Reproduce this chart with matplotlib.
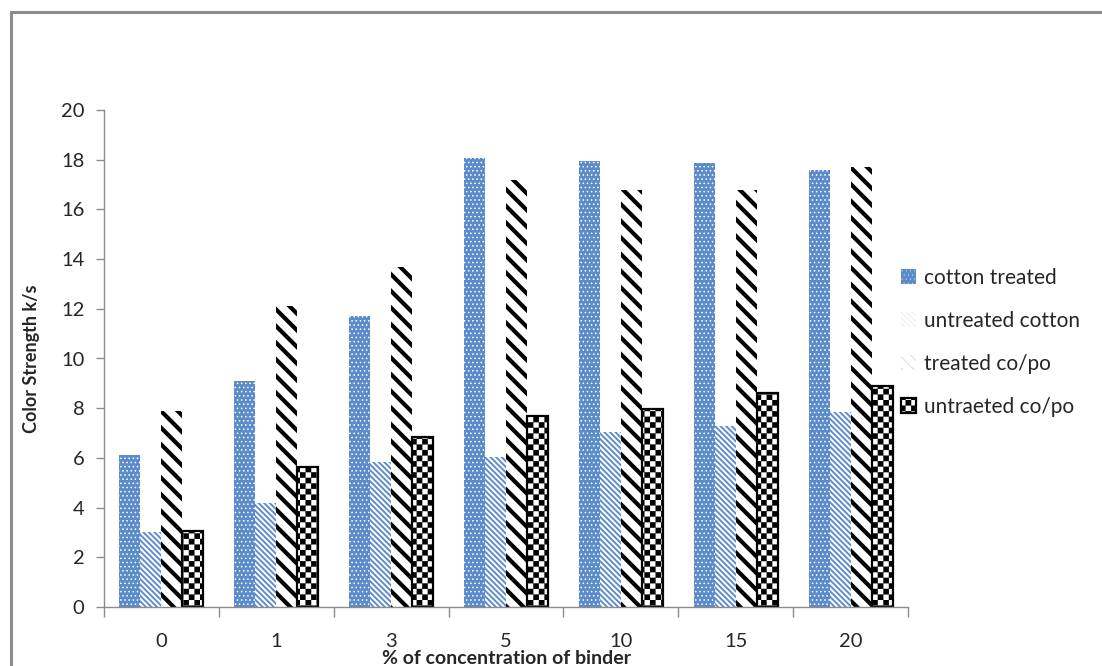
import warnings
import numpy as np
import matplotlib
matplotlib.use("Agg")
import matplotlib.pyplot as plt
import matplotlib.hatch as mhatch
from matplotlib.path import Path
from matplotlib.patches import Rectangle, Patch

warnings.filterwarnings("ignore")

# ---------------- data ----------------
categories = ["0", "1", "3", "5", "10", "15", "20"]
series_names = ["cotton treated", "untreated cotton", "treated co/po", "untraeted co/po"]
cotton_treated = [6.1, 9.1, 11.7, 18.05, 17.95, 17.85, 17.6]
untreated_cotton = [3.0, 4.2, 5.85, 6.05, 7.05, 7.3, 7.85]
treated_copo = [7.9, 12.1, 13.7, 17.2, 16.8, 16.8, 17.7]
untreated_copo = [3.05, 5.65, 6.85, 7.7, 7.95, 8.6, 8.9]
y_ticks = [0, 2, 4, 6, 8, 10, 12, 14, 16, 18, 20]
x_label = "% of concentration of binder"
y_label = "Color Strength k/s"


# ---------------- custom checkerboard hatch ----------------
class CheckerHatch(mhatch.HatchPatternBase):
    def __init__(self, hatch, density):
        n = hatch.count('c') * density
        if n % 2:
            n += 1
        self.n = n
        self.cells = [(i, j) for i in range(n) for j in range(n) if (i + j) % 2 == 0] if n else []
        self.num_vertices = len(self.cells) * 5

    def set_vertices_and_codes(self, vertices, codes):
        s = 1.0 / self.n
        k = 0
        for (i, j) in self.cells:
            x0, y0 = i * s, j * s
            vertices[k:k + 5] = [(x0, y0), (x0 + s, y0), (x0 + s, y0 + s), (x0, y0 + s), (x0, y0)]
            codes[k] = Path.MOVETO
            codes[k + 1:k + 4] = Path.LINETO
            codes[k + 4] = Path.CLOSEPOLY
            k += 5


mhatch._hatch_types.append(CheckerHatch)

# ---------------- figure ----------------
font = "Lato"
plt.rcParams["font.family"] = [font, "DejaVu Sans"]
text_color = "#262626"
axis_color = "#8c8c8c"

fig = plt.figure(figsize=(11.02, 6.66), dpi=100)
fig.patch.set_facecolor("white")

# outer chart frame
fig.patches.append(Rectangle((11 / 1102, -0.1), 1.2, 1 - 12 / 666 + 0.1,
                             transform=fig.transFigure, fill=False,
                             edgecolor="#8c8c8c", linewidth=2.2, zorder=0))

ax = fig.add_axes([104 / 1102, 1 - 607 / 666, (908 - 104) / 1102, (607 - 110) / 666])

x = np.arange(len(categories))
w = 0.183
offsets = [-1.5 * w, -0.5 * w, 0.5 * w, 1.5 * w]

styles = [
    dict(facecolor="#5b8bc9", edgecolor="white", hatch="....", linewidth=0, hlw=0.6,
         lhatch="....", lhlw=0.6),
    dict(facecolor="white", edgecolor="#5f8dcc", hatch="\\\\\\\\\\\\", linewidth=0, hlw=1.4,
         lhatch="\\\\\\\\\\\\", lhlw=1.6),
    dict(facecolor="white", edgecolor="black", hatch="\\\\", linewidth=0, hlw=3.0,
         lhatch="\\\\\\", lhlw=2.4),
    dict(facecolor="white", edgecolor="black", hatch="ccc", linewidth=1.6, hlw=0.1,
         lhatch="ccc", lhlw=0.1),
]
data = [cotton_treated, untreated_cotton, treated_copo, untreated_copo]

handles = []
for vals, off, st, name in zip(data, offsets, styles, series_names):
    plt.rcParams["hatch.linewidth"] = st["hlw"]
    ax.bar(x + off, vals, width=w, facecolor=st["facecolor"],
           edgecolor=st["edgecolor"], hatch=st["hatch"],
           linewidth=st["linewidth"], label=name, zorder=2)
    plt.rcParams["hatch.linewidth"] = st["lhlw"]
    handles.append(Patch(facecolor=st["facecolor"], edgecolor=st["edgecolor"],
                         hatch=st["lhatch"], linewidth=st["linewidth"], label=name))

ax.set_xlim(-0.5, len(categories) - 0.5)
ax.set_ylim(0, 20)
ax.set_yticks(y_ticks)
ax.set_yticklabels([str(v) for v in y_ticks])

ax.set_xticks(x)
ax.set_xticklabels(categories)
ax.set_xticks(np.arange(len(categories) + 1) - 0.5, minor=True)

for s in ["top", "right"]:
    ax.spines[s].set_visible(False)
for s in ["left", "bottom"]:
    ax.spines[s].set_color(axis_color)
    ax.spines[s].set_linewidth(1.0)

ax.tick_params(axis="y", direction="out", length=6, width=1.0, color=axis_color,
               labelsize=14.5, labelcolor=text_color, pad=8)
ax.tick_params(axis="x", which="major", length=0, labelsize=14.5,
               labelcolor=text_color, pad=19)
ax.tick_params(axis="x", which="minor", direction="out", length=7, width=1.0,
               color=axis_color)

ax.set_ylabel(y_label, fontsize=13, fontweight="bold", color=text_color)
ax.yaxis.set_label_coords(-64 / 804, 0.5)
ax.set_xlabel(x_label, fontsize=14, fontweight="bold", color=text_color)
ax.xaxis.set_label_coords(0.5, -(659 - 607) / 497)
ax.xaxis.label.set_verticalalignment("center")

leg = fig.legend(handles=handles, labels=series_names, loc="upper left",
                 bbox_to_anchor=(901 / 1102, 1 - 268 / 666), frameon=False,
                 fontsize=15, labelcolor=text_color, handlelength=0.7,
                 handleheight=0.7, handletextpad=0.4, labelspacing=1.1,
                 borderpad=0, borderaxespad=0)

fig.savefig("out.png", dpi=100, facecolor="white")
